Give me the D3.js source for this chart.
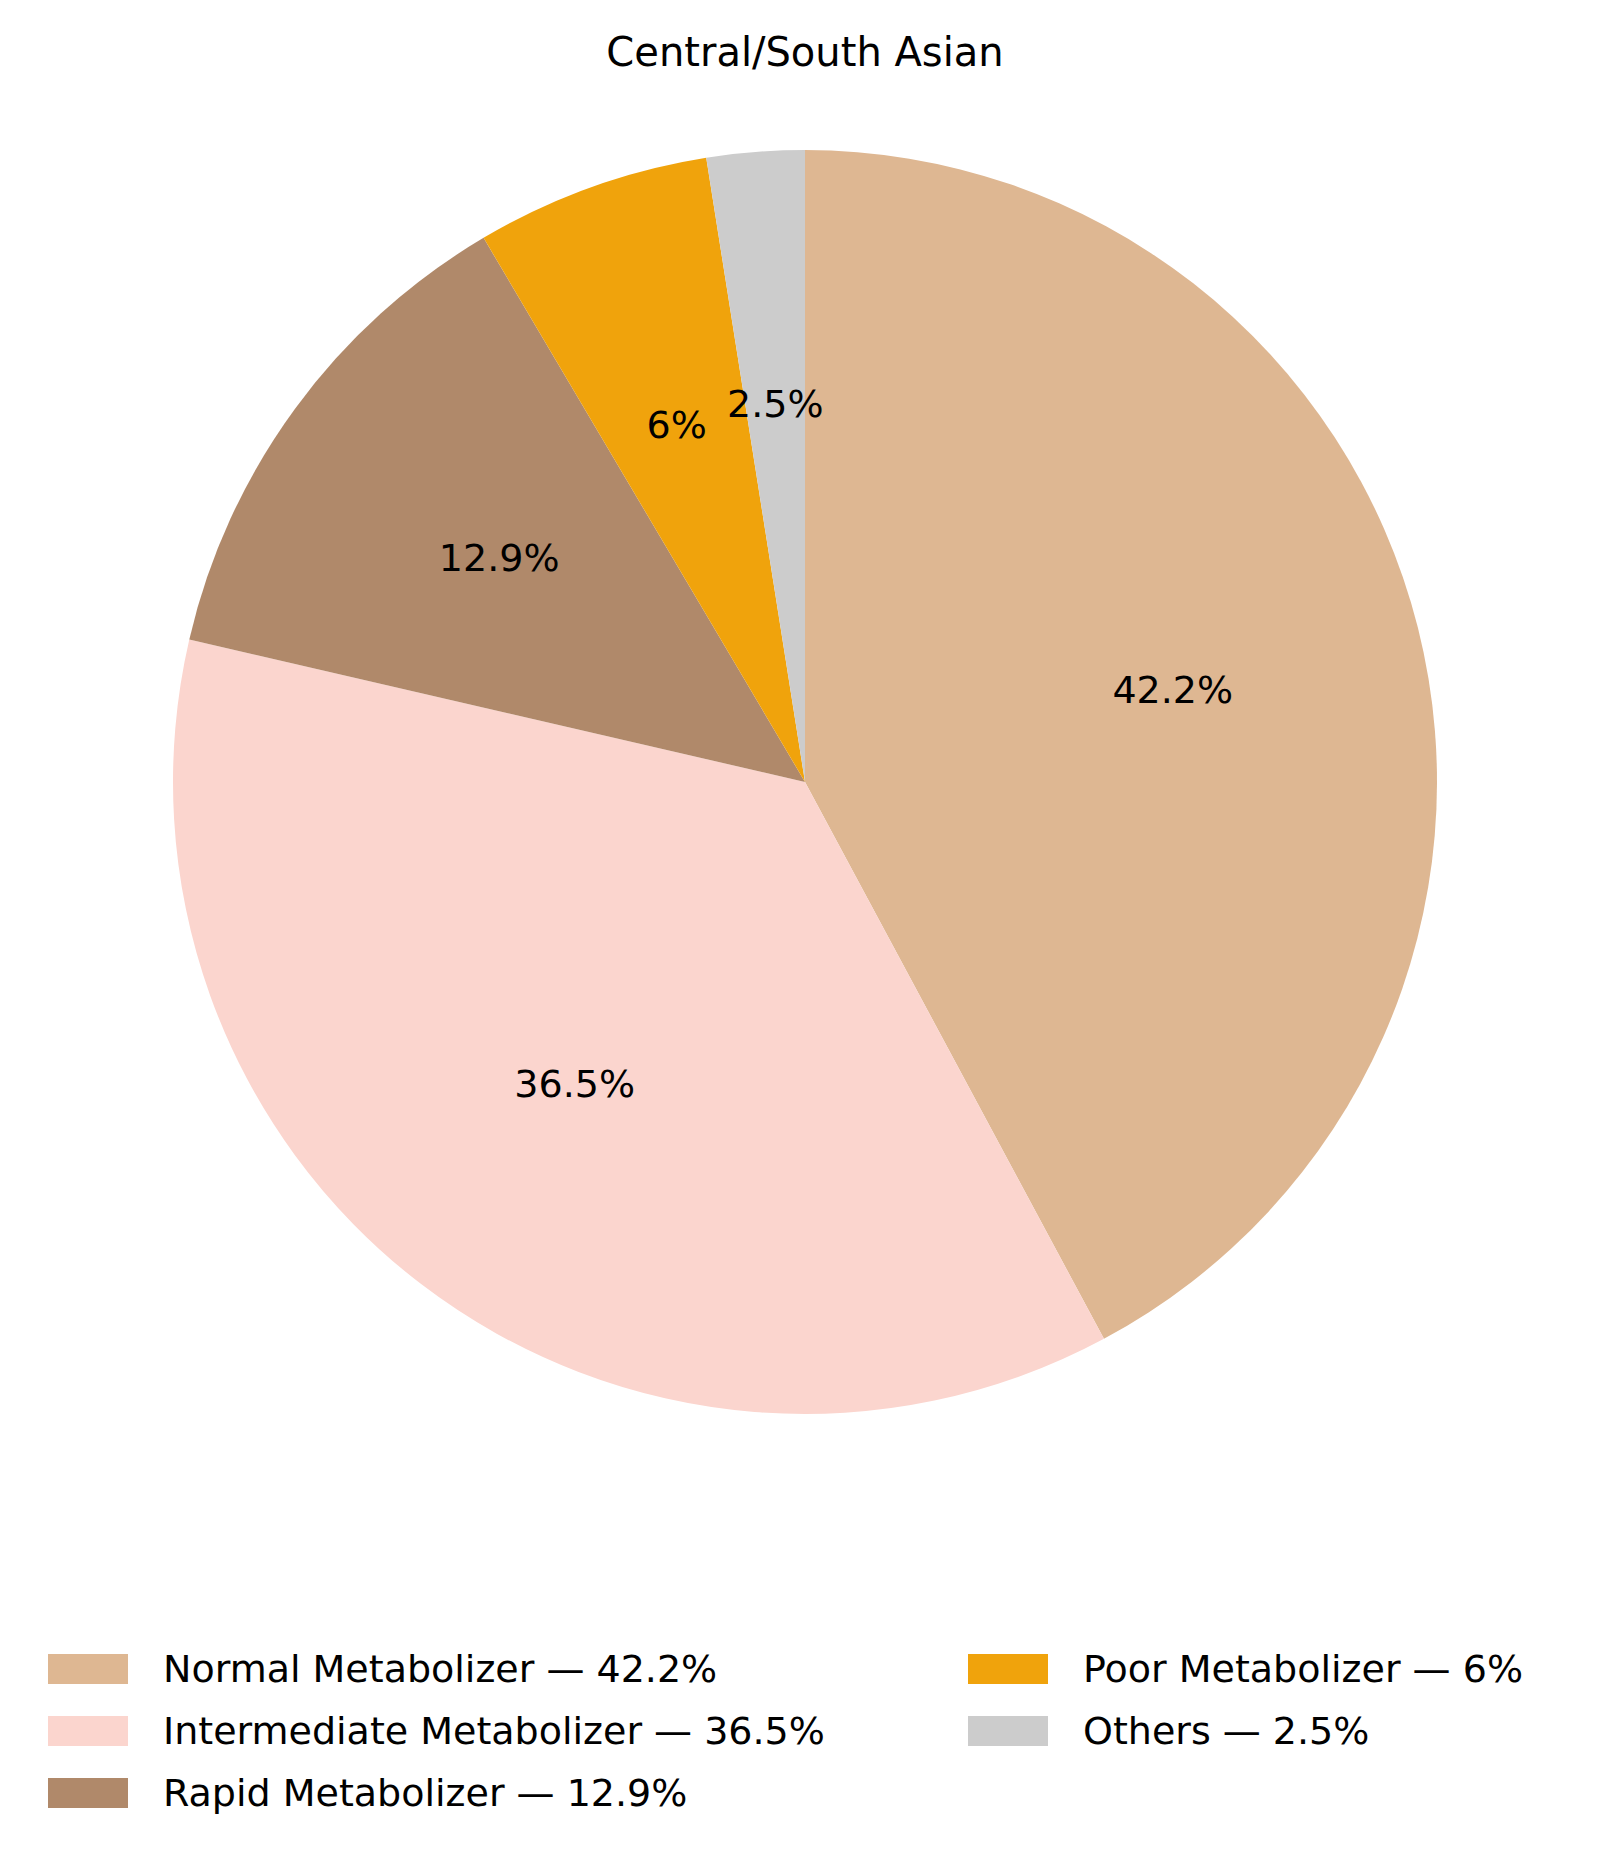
<!DOCTYPE html>
<html><head><meta charset="utf-8">
<script src="https://cdn.jsdelivr.net/npm/d3@7"></script>
<style>body{margin:0;background:#fff}text{font-family:"DejaVu Sans",sans-serif}</style>
</head><body><div id="vis"></div>
<script>
var categories = ["Normal Metabolizer", "Intermediate Metabolizer", "Rapid Metabolizer", "Poor Metabolizer", "Others"];
var values = [42.2, 36.5, 12.9, 6, 2.5];
var colors = ["#deb792", "#fbd5ce", "#b0896a", "#f0a30c", "#cccccc"];

var W = 1616, H = 1869, cx = 805, cy = 782, R = 632;
var svg = d3.select("#vis").append("svg").attr("width", W).attr("height", H);

svg.append("text").attr("x", cx).attr("y", 66).attr("text-anchor", "middle")
  .attr("font-size", 40).text("Central/South Asian");

var data = categories.map(function(c, i) { return {name: c, value: values[i], color: colors[i]}; });
var pie = d3.pie().sort(null).value(function(d) { return d.value; });
var arc = d3.arc().innerRadius(0).outerRadius(R);
var labelArc = d3.arc().innerRadius(R * 1.2).outerRadius(R * 1.2 * 0);
var g = svg.append("g").attr("transform", "translate(" + cx + "," + cy + ")");
var arcs = pie(data);

g.selectAll("path").data(arcs).enter().append("path")
  .attr("d", arc).attr("fill", function(d) { return d.data.color; });

g.selectAll("text.pct").data(arcs).enter().append("text")
  .attr("class", "pct")
  .attr("transform", function(d) {
    var a = (d.startAngle + d.endAngle) / 2, r = R * 0.6;
    return "translate(" + (Math.sin(a) * r) + "," + (-Math.cos(a) * r) + ")";
  })
  .attr("text-anchor", "middle").attr("dy", "0.35em").attr("font-size", 38)
  .text(function(d) { return d.data.value + "%"; });

var legX = [48, 968], legY = [1669, 1731, 1793];
var leg = svg.selectAll("g.leg").data(data).enter().append("g").attr("class", "leg")
  .attr("transform", function(d, i) {
    var col = i < 3 ? 0 : 1, row = i < 3 ? i : i - 3;
    return "translate(" + legX[col] + "," + legY[row] + ")";
  });
leg.append("rect").attr("x", 0).attr("y", -15).attr("width", 80).attr("height", 30)
  .attr("fill", function(d) { return d.color; });
leg.append("text").attr("x", 115).attr("dy", "0.35em").attr("font-size", 38)
  .text(function(d) { return d.name + " \u2014 " + d.value + "%"; });
</script></body></html>
